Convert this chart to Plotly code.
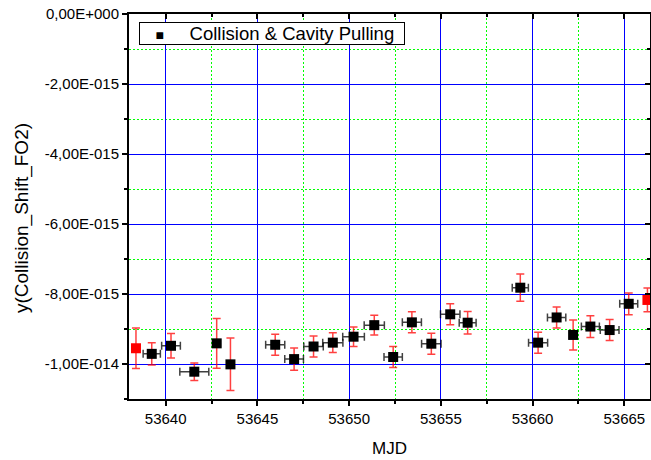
import plotly.graph_objects as go

# ---- data ----
mjd = [53639.24, 53640.29, 53641.56, 53642.78, 53643.53, 53645.97, 53647.00,
       53648.06, 53649.11, 53650.24, 53651.37, 53652.40, 53653.42, 53654.48,
       53655.51, 53656.46, 53659.33, 53660.30, 53661.31, 53662.21, 53663.15,
       53664.20, 53665.24]
mjd_err = [0.47, 0.51, 0.79, 0.2, 0.2, 0.52, 0.51, 0.53, 0.55, 0.59, 0.55, 0.50,
           0.52, 0.53, 0.53, 0.46, 0.44, 0.52, 0.50, 0.2, 0.49, 0.51, 0.49]
shift = [-9.71e-15, -9.48e-15, -10.22e-15, -9.41e-15, -10.01e-15, -9.45e-15,
         -9.86e-15, -9.50e-15, -9.39e-15, -9.22e-15, -8.89e-15, -9.80e-15,
         -8.81e-15, -9.42e-15, -8.58e-15, -8.82e-15, -7.82e-15, -9.39e-15,
         -8.67e-15, -9.17e-15, -8.93e-15, -9.03e-15, -8.28e-15]
shift_err = [0.32e-15, 0.35e-15, 0.25e-15, 0.71e-15, 0.75e-15, 0.30e-15,
             0.32e-15, 0.30e-15, 0.28e-15, 0.28e-15, 0.28e-15, 0.30e-15,
             0.30e-15, 0.30e-15, 0.30e-15, 0.32e-15, 0.39e-15, 0.30e-15,
             0.30e-15, 0.43e-15, 0.31e-15, 0.30e-15, 0.31e-15]

red_mjd = [53638.38, 53666.26]
red_shift = [-9.55e-15, -8.17e-15]
red_err = [0.58e-15, 0.34e-15]

x_tickvals = [53640, 53645, 53650, 53655, 53660, 53665]
x_ticktext = ["53640", "53645", "53650", "53655", "53660", "53665"]
y_tickvals = [0, -2e-15, -4e-15, -6e-15, -8e-15, -1e-14]
y_ticktext = ["0,00E+000", "-2,00E-015", "-4,00E-015", "-6,00E-015",
              "-8,00E-015", "-1,00E-014"]

x_range = [53638.0, 53666.4]
y_range = [-1.1e-14, 0]

series_name = "Collision & Cavity Pulling"

FONT = "Liberation Sans, Arial, sans-serif"
BLUE = "#0000ff"
GREEN = "#00ff00"

fig = go.Figure()

fig.add_trace(go.Scatter(
    x=red_mjd, y=red_shift, mode="markers", showlegend=False,
    marker=dict(symbol="square", size=10, color="#ff0000"),
    error_y=dict(type="data", array=red_err, color="rgba(255,0,0,0.75)",
                 thickness=1.5, width=4),
    hoverinfo="skip",
))

fig.add_trace(go.Scatter(
    x=mjd, y=shift, mode="markers", name=series_name, showlegend=False,
    marker=dict(symbol="square", size=10, color="#000000"),
    error_x=dict(type="data", array=mjd_err, color="rgba(0,0,0,0.75)",
                 thickness=1.5, width=4),
    error_y=dict(type="data", array=shift_err, color="rgba(255,0,0,0.75)",
                 thickness=1.5, width=4),
))

# invisible copy on the overlay axes (top / right frame with inward ticks)
fig.add_trace(go.Scatter(
    x=mjd, y=shift, xaxis="x2", yaxis="y2", mode="markers",
    marker=dict(opacity=0), showlegend=False, hoverinfo="skip",
))

fig.update_layout(
    template="none",
    width=651, height=460,
    margin=dict(l=129, r=1, t=14, b=61),
    paper_bgcolor="white", plot_bgcolor="white",
    font=dict(family=FONT, color="black", size=15),
    showlegend=False,
    xaxis=dict(
        range=x_range, tickmode="array", tickvals=x_tickvals,
        ticktext=x_ticktext,
        ticks="outside", ticklen=5, tickwidth=1.5, tickcolor="black",
        showline=True, linecolor="black", linewidth=2,
        showgrid=True, gridcolor=BLUE, gridwidth=1, zeroline=False,
        tickfont=dict(size=15),
        minor=dict(tickmode="linear", tick0=53640, dtick=2.5, ticks="outside",
                   ticklen=3, tickwidth=1.5, tickcolor="black",
                   showgrid=True, gridcolor=GREEN, griddash="2px,2px",
                   gridwidth=1),
        title=dict(text="MJD", font=dict(size=17), standoff=16),
    ),
    yaxis=dict(
        range=y_range, tickmode="array", tickvals=y_tickvals,
        ticktext=y_ticktext,
        ticks="outside", ticklen=5, tickwidth=1.5, tickcolor="black",
        showline=True, linecolor="black", linewidth=2,
        showgrid=True, gridcolor=BLUE, gridwidth=1, zeroline=False,
        tickfont=dict(size=15),
        minor=dict(tickmode="linear", tick0=0, dtick=1e-15, ticks="outside",
                   ticklen=3, tickwidth=1.5, tickcolor="black",
                   showgrid=True, gridcolor=GREEN, griddash="2px,2px",
                   gridwidth=1),
    ),
    xaxis2=dict(
        overlaying="x", side="top", anchor="y", range=x_range,
        tickmode="array", tickvals=x_tickvals, showticklabels=False,
        ticks="inside", ticklen=5, tickwidth=1.5, tickcolor="black",
        showline=True, linecolor="black", linewidth=2,
        showgrid=False, zeroline=False,
        minor=dict(tickmode="linear", tick0=53640, dtick=2.5, ticks="inside",
                   ticklen=3, tickwidth=1.5, tickcolor="black", showgrid=False),
    ),
    yaxis2=dict(
        overlaying="y", side="right", anchor="x", range=y_range,
        tickmode="array", tickvals=y_tickvals, showticklabels=False,
        ticks="inside", ticklen=5, tickwidth=1.5, tickcolor="black",
        showline=True, linecolor="black", linewidth=2,
        showgrid=False, zeroline=False,
        minor=dict(tickmode="linear", tick0=0, dtick=1e-15, ticks="inside",
                   ticklen=3, tickwidth=1.5, tickcolor="black", showgrid=False),
    ),
    annotations=[
        dict(
            text="y(Collision_Shift_FO2)", xref="paper", yref="paper",
            x=-0.2054, y=0.47, xanchor="center", yanchor="middle",
            textangle=-90, showarrow=False, font=dict(size=19, family=FONT),
        ),
        dict(
            text=("&nbsp;&nbsp;&nbsp;<span style='font-size:14px'>■</span>"
                  "&nbsp;&nbsp;&nbsp;&nbsp;&nbsp;"
                  + series_name.replace("&", "&amp;") + "&nbsp;&nbsp;"),
            xref="paper", yref="paper", x=0.0192, y=0.9506,
            xanchor="left", yanchor="middle", showarrow=False,
            bgcolor="white", bordercolor="black", borderwidth=1, borderpad=0,
            font=dict(size=18.5, family=FONT, color="black"),
        ),
    ],
)

fig.write_html("out.html")
